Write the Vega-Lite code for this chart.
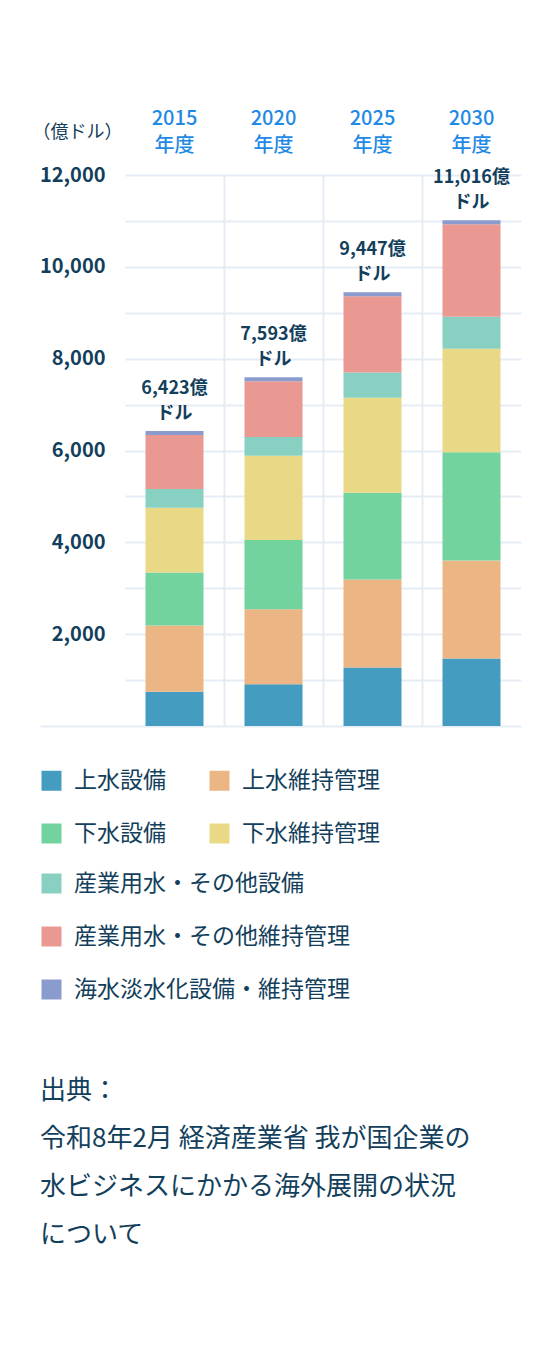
{
  "$schema": "https://vega.github.io/schema/vega-lite/v6.json",
  "width": 396,
  "height": 551,
  "autosize": {"type": "none"},
  "padding": {"left": 125, "top": 175, "right": 39, "bottom": 626},
  "background": "white",
  "config": {"font": "Noto Sans CJK JP", "view": {"stroke": null}},
  "title": {
    "text": ["出典：", "令和8年2月 経済産業省 我が国企業の", "水ビジネスにかかる海外展開の状況", "について"],
    "orient": "bottom",
    "anchor": "start",
    "frame": "bounds",
    "baseline": "top",
    "fontSize": 26,
    "fontWeight": "normal",
    "color": "#133f5c",
    "lineHeight": 48,
    "offset": 76,
    "dx": 8
  },
  "data": {
    "values": [
      {"year": "2015", "category": "上水設備", "value": 746},
      {"year": "2015", "category": "上水維持管理", "value": 1442},
      {"year": "2015", "category": "下水設備", "value": 1154},
      {"year": "2015", "category": "下水維持管理", "value": 1413},
      {"year": "2015", "category": "産業用水・その他設備", "value": 406},
      {"year": "2015", "category": "産業用水・その他維持管理", "value": 1179},
      {"year": "2015", "category": "海水淡水化設備・維持管理", "value": 83},
      {"year": "2020", "category": "上水設備", "value": 909},
      {"year": "2020", "category": "上水維持管理", "value": 1634},
      {"year": "2020", "category": "下水設備", "value": 1508},
      {"year": "2020", "category": "下水維持管理", "value": 1832},
      {"year": "2020", "category": "産業用水・その他設備", "value": 412},
      {"year": "2020", "category": "産業用水・その他維持管理", "value": 1215},
      {"year": "2020", "category": "海水淡水化設備・維持管理", "value": 83},
      {"year": "2025", "category": "上水設備", "value": 1276},
      {"year": "2025", "category": "上水維持管理", "value": 1913},
      {"year": "2025", "category": "下水設備", "value": 1891},
      {"year": "2025", "category": "下水維持管理", "value": 2071},
      {"year": "2025", "category": "産業用水・その他設備", "value": 547},
      {"year": "2025", "category": "産業用水・その他維持管理", "value": 1659},
      {"year": "2025", "category": "海水淡水化設備・維持管理", "value": 90},
      {"year": "2030", "category": "上水設備", "value": 1468},
      {"year": "2030", "category": "上水維持管理", "value": 2139},
      {"year": "2030", "category": "下水設備", "value": 2356},
      {"year": "2030", "category": "下水維持管理", "value": 2252},
      {"year": "2030", "category": "産業用水・その他設備", "value": 700},
      {"year": "2030", "category": "産業用水・その他維持管理", "value": 2010},
      {"year": "2030", "category": "海水淡水化設備・維持管理", "value": 91}
    ]
  },
  "transform": [
    {"calculate": "indexof(['上水設備','上水維持管理','下水設備','下水維持管理','産業用水・その他設備','産業用水・その他維持管理','海水淡水化設備・維持管理'], datum.category)", "as": "rank"},
    {"stack": "value", "groupby": ["year"], "sort": [{"field": "rank", "order": "ascending"}], "as": ["y0", "y1"]}
  ],
  "layer": [
    {
      "transform": [{"filter": "datum.rank < 4"}],
      "mark": {"type": "bar", "width": {"band": 0.586}},
      "encoding": {
        "x": {
          "field": "year",
          "type": "nominal",
          "sort": ["2015", "2020", "2025", "2030"],
          "scale": {"paddingInner": 0, "paddingOuter": 0},
          "axis": {
            "orient": "top",
            "title": null,
            "domain": false,
            "ticks": false,
            "grid": false,
            "labelAngle": 0,
            "labelExpr": "[datum.label, '年度']",
            "labelFontSize": 20,
            "labelLineHeight": 27,
            "labelColor": "#1f8ae6",
            "labelFontWeight": 500,
            "labelPadding": 47
          }
        },
        "y": {
          "field": "y1",
          "type": "quantitative",
          "scale": {"domain": [0, 12000], "nice": false},
          "axis": {
            "title": "（億ドル）",
            "titleAngle": 0,
            "titleX": -93,
            "titleY": -43,
            "titleAlign": "left",
            "titleBaseline": "middle",
            "titleFontSize": 18,
            "titleFontWeight": "normal",
            "titleColor": "#133f5c",
            "values": [0, 1000, 2000, 3000, 4000, 5000, 6000, 7000, 8000, 9000, 10000, 11000, 12000],
            "labelExpr": "datum.value > 0 && datum.value % 2000 == 0 ? format(datum.value, ',') : ''",
            "labelFontSize": 20,
            "labelFontWeight": "bold",
            "labelColor": "#133f5c",
            "labelPadding": -65,
            "labelOverlap": false,
            "tickSize": 85,
            "tickWidth": 2,
            "tickColor": {"condition": {"test": "datum.value === 0", "value": "#e6ecf3"}, "value": "transparent"},
            "domain": false,
            "grid": true,
            "gridColor": "#e6ecf3",
            "gridWidth": 2
          }
        },
        "y2": {"field": "y0"},
        "color": {
          "field": "category",
          "type": "nominal",
          "scale": {
            "domain": ["上水設備", "下水設備", "上水維持管理", "下水維持管理"],
            "range": ["#449dc0", "#72d39f", "#ecb584", "#e9d886"]
          },
          "legend": {
            "title": null,
            "orient": "none",
            "legendX": -85,
            "legendY": 594,
            "columns": 2,
            "columnPadding": 42,
            "rowPadding": 29,
            "padding": 0,
            "symbolType": "square",
            "symbolSize": 400,
            "symbolStrokeWidth": 0,
            "symbolOpacity": 1,
            "labelFontSize": 23,
            "labelColor": "#133f5c",
            "labelOffset": 11,
            "labelLimit": 400
          }
        }
      }
    },
    {
      "transform": [{"filter": "datum.rank >= 4"}],
      "mark": {"type": "bar", "width": {"band": 0.586}},
      "encoding": {
        "x": {
          "field": "year",
          "type": "nominal",
          "sort": ["2015", "2020", "2025", "2030"],
          "scale": {"paddingInner": 0, "paddingOuter": 0},
          "axis": {
            "orient": "bottom",
            "title": null,
            "domain": false,
            "ticks": false,
            "labels": false,
            "grid": true,
            "bandPosition": 1,
            "gridColor": {"condition": {"test": "datum.value === '2030'", "value": "transparent"}, "value": "#e6ecf3"},
            "gridWidth": 2
          }
        },
        "y": {
          "field": "y1",
          "type": "quantitative",
          "scale": {"domain": [0, 12000], "nice": false},
          "axis": {
            "title": "（億ドル）",
            "titleAngle": 0,
            "titleX": -93,
            "titleY": -43,
            "titleAlign": "left",
            "titleBaseline": "middle",
            "titleFontSize": 18,
            "titleFontWeight": "normal",
            "titleColor": "#133f5c",
            "values": [0, 1000, 2000, 3000, 4000, 5000, 6000, 7000, 8000, 9000, 10000, 11000, 12000],
            "labelExpr": "datum.value > 0 && datum.value % 2000 == 0 ? format(datum.value, ',') : ''",
            "labelFontSize": 20,
            "labelFontWeight": "bold",
            "labelColor": "#133f5c",
            "labelPadding": -65,
            "labelOverlap": false,
            "tickSize": 85,
            "tickWidth": 2,
            "tickColor": {"condition": {"test": "datum.value === 0", "value": "#e6ecf3"}, "value": "transparent"},
            "domain": false,
            "grid": true,
            "gridColor": "#e6ecf3",
            "gridWidth": 2
          }
        },
        "y2": {"field": "y0"},
        "color": {
          "field": "category",
          "type": "nominal",
          "scale": {
            "domain": ["産業用水・その他設備", "産業用水・その他維持管理", "海水淡水化設備・維持管理"],
            "range": ["#88d0c1", "#e99892", "#8a9bce"]
          },
          "legend": {
            "title": null,
            "orient": "none",
            "legendX": -85,
            "legendY": 697,
            "columns": 1,
            "rowPadding": 29,
            "padding": 0,
            "symbolType": "square",
            "symbolSize": 400,
            "symbolStrokeWidth": 0,
            "symbolOpacity": 1,
            "labelFontSize": 23,
            "labelColor": "#133f5c",
            "labelOffset": 11,
            "labelLimit": 400
          }
        }
      }
    },
    {
      "transform": [
        {"aggregate": [{"op": "sum", "field": "value", "as": "total"}], "groupby": ["year"]},
        {"calculate": "format(datum.total, ',') + '億\\nドル'", "as": "label"}
      ],
      "mark": {"type": "text", "lineBreak": "\n", "baseline": "bottom", "dy": -33, "fontSize": 18, "fontWeight": "bold", "color": "#133f5c", "lineHeight": 25},
      "encoding": {
        "x": {
          "field": "year",
          "type": "nominal",
          "sort": ["2015", "2020", "2025", "2030"],
          "scale": {"paddingInner": 0, "paddingOuter": 0},
          "axis": null
        },
        "y": {
          "field": "total",
          "type": "quantitative",
          "scale": {"domain": [0, 12000], "nice": false},
          "axis": {
            "title": "（億ドル）",
            "titleAngle": 0,
            "titleX": -93,
            "titleY": -43,
            "titleAlign": "left",
            "titleBaseline": "middle",
            "titleFontSize": 18,
            "titleFontWeight": "normal",
            "titleColor": "#133f5c",
            "values": [0, 1000, 2000, 3000, 4000, 5000, 6000, 7000, 8000, 9000, 10000, 11000, 12000],
            "labelExpr": "datum.value > 0 && datum.value % 2000 == 0 ? format(datum.value, ',') : ''",
            "labelFontSize": 20,
            "labelFontWeight": "bold",
            "labelColor": "#133f5c",
            "labelPadding": -65,
            "labelOverlap": false,
            "tickSize": 85,
            "tickWidth": 2,
            "tickColor": {"condition": {"test": "datum.value === 0", "value": "#e6ecf3"}, "value": "transparent"},
            "domain": false,
            "grid": true,
            "gridColor": "#e6ecf3",
            "gridWidth": 2
          }
        },
        "text": {"field": "label", "type": "nominal"}
      }
    }
  ],
  "resolve": {
    "scale": {"color": "independent"},
    "legend": {"color": "independent"},
    "axis": {"x": "independent"}
  }
}
